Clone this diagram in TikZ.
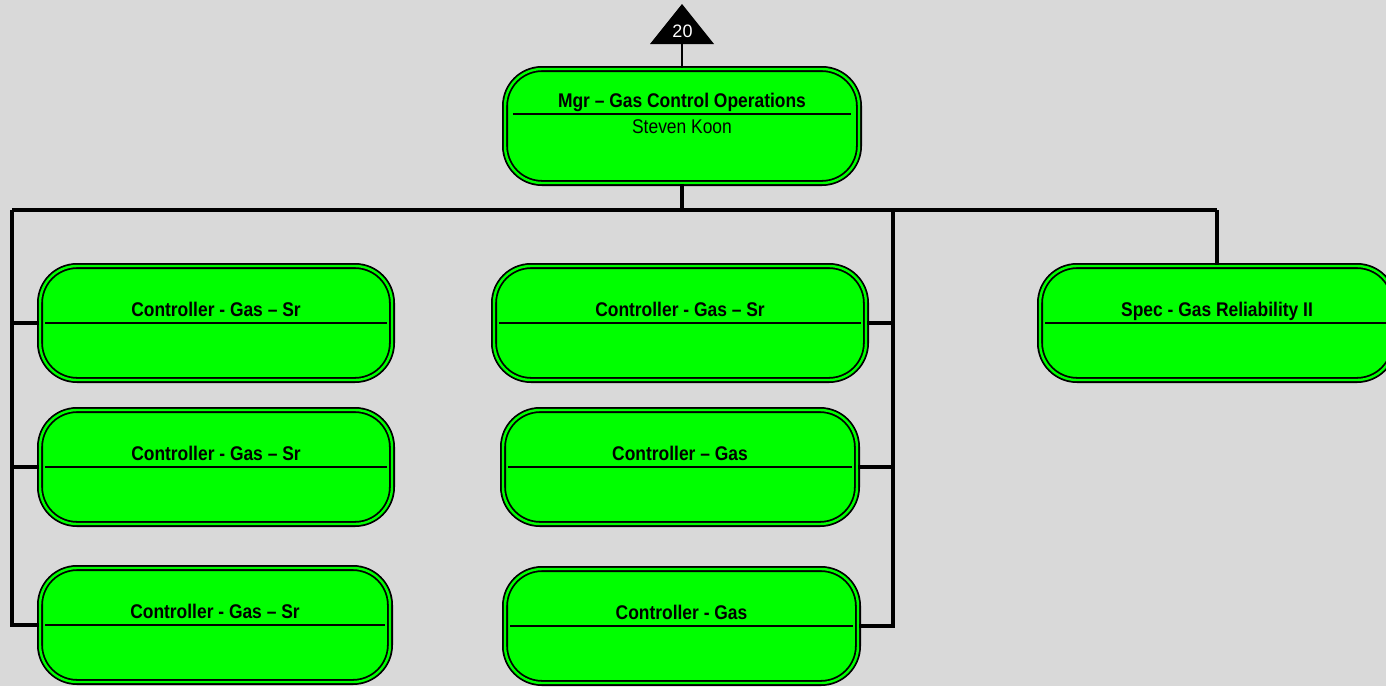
\documentclass[tikz,border=0pt]{standalone}
\usepackage{fontspec}
\setmainfont{Liberation Sans}[FakeStretch=0.88]
\newfontfamily\plainfont{Liberation Sans}
\definecolor{bg}{RGB}{217,217,217}
\definecolor{boxgreen}{RGB}{0,255,0}
\begin{document}
\begin{tikzpicture}[x=1pt,y=-1pt,
  orgbox/.style={draw=black, line width=1.8pt, double=boxgreen, double distance=2.4pt,
    fill=boxgreen, rounded corners=37pt, minimum height=114pt, inner sep=0pt},
  boxtitle/.style={anchor=base, inner sep=0pt, font=\fontsize{19.8}{22}\selectfont\bfseries},
  boxname/.style={anchor=base, inner sep=0pt, font=\fontsize{19.8}{22}\selectfont},
  divider/.style={line width=1.6pt},
  conn/.style={line width=3.2pt},
  thinconn/.style={line width=1.6pt}]
\clip (0,0) rectangle (1386,686);
\fill[bg] (0,0) rectangle (1386,686);
\useasboundingbox (0,0) rectangle (1386,686);

% top box
\node[orgbox, minimum width=354pt] (top) at (682,126) {};
\draw[divider] ([xshift=9pt]top.west |- 0,114) -- ([xshift=-9pt]top.east |- 0,114);
\node[boxtitle] (toptitle) at (682,107) {Mgr – Gas Control Operations};
\node[boxname] (topname) at (682,133) {Steven Koon};

% triangle
\fill[black] (650,44) -- (714,44) -- (682,4) -- cycle;
\coordinate (tri) at (682,44);
\node[inner sep=0pt, text=white, font=\plainfont\fontsize{18}{20}\selectfont] (num) at (682.5,31.5) {20};
\draw[thinconn] (tri) -- (top.north);

% left column
\node[orgbox, minimum width=352pt] (l1) at (216,323) {};
\node[orgbox, minimum width=352pt] (l2) at (216,467) {};
\node[orgbox, minimum width=350pt] (l3) at (215,625) {};
% middle column
\node[orgbox, minimum width=372pt] (m1) at (680,323) {};
\node[orgbox, minimum width=354pt] (m2) at (680,467) {};
\node[orgbox, minimum width=353pt] (m3) at (681.5,626) {};
% right
\node[orgbox, minimum width=354pt] (r1) at (1217,323) {};

\foreach \b/\t in {l1/Controller - Gas – Sr, l2/Controller - Gas – Sr, l3/Controller - Gas – Sr,
                   m1/Controller - Gas – Sr, m2/Controller – Gas, m3/Controller - Gas,
                   r1/Spec - Gas Reliability II}{
  \draw[divider] ([xshift=6pt]\b.west) -- ([xshift=-6pt]\b.east);
  \node[boxtitle] at ([yshift=6.5pt]\b.center) {\t};
}

% connectors
\coordinate (busL) at (12,210);
\coordinate (busM) at (893,210);
\coordinate (busR) at (1217,210);
\draw[conn] (top.south) -- (top.south |- busL);
\draw[conn] (busL) -- (busR);
\draw[conn] (busR) -- (r1.north);
\draw[conn] (busL) |- (l3.west);
\draw[conn] (l1.west) -- (l1.west -| busL);
\draw[conn] (l2.west) -- (l2.west -| busL);
\draw[conn] (busM) |- (m3.east);
\draw[conn] (m1.east) -- (m1.east -| busM);
\draw[conn] (m2.east) -- (m2.east -| busM);
\end{tikzpicture}
\end{document}
